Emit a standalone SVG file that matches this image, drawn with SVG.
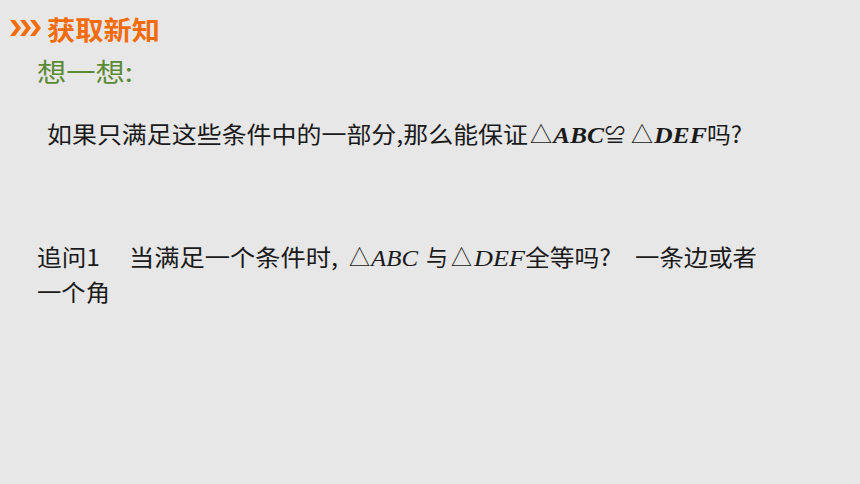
<svg xmlns="http://www.w3.org/2000/svg" width="860" height="484" viewBox="0 0 860 484">
<style>
.cjk{font-family:"Noto Sans CJK SC","Noto Sans",sans-serif;font-size:23px;fill:#1a1a1a}
.tri{font-family:"Noto Sans CJK SC","DejaVu Sans",sans-serif;font-size:23px;fill:#1a1a1a}
.mi{font-family:"Liberation Serif",serif;font-size:23px;font-style:italic;fill:#1a1a1a}
.mib{font-family:"Liberation Serif",serif;font-size:23px;font-style:italic;font-weight:bold;fill:#1a1a1a}
.chev{fill:#f36c0c}
</style>
<rect width="860" height="484" fill="#e7e7e7"/>
<g id="header">
<polygon class="chev" points="10,20 15,20 21,28 15,36 10,36 16,28"/>
<polygon class="chev" points="20,20 25,20 31,28 25,36 20,36 26,28"/>
<polygon class="chev" points="30,20 35,20 41,28 35,36 30,36 36,28"/>
<text x="47" y="40" font-family="Noto Sans CJK SC,sans-serif" font-size="26" font-weight="bold" fill="#f36c0c" textLength="113" lengthAdjust="spacingAndGlyphs">获取新知</text>
</g>
<g id="subtitle">
<text x="37" y="82" font-family="Noto Sans CJK SC,sans-serif" font-size="26" fill="#5b8a35" textLength="96" lengthAdjust="spacingAndGlyphs">想一想:</text>
</g>
<g id="question">
<text class="cjk" x="47" y="143" textLength="481" lengthAdjust="spacingAndGlyphs">如果只满足这些条件中的一部分,那么能保证</text>
<text class="tri" x="530" y="143" textLength="22" lengthAdjust="spacingAndGlyphs">△</text>
<text class="mib" x="553" y="143" textLength="51" lengthAdjust="spacingAndGlyphs">ABC</text>
<text class="cjk" x="605" y="143" textLength="20" lengthAdjust="spacingAndGlyphs">≌</text>
<text class="tri" x="631" y="143" textLength="22" lengthAdjust="spacingAndGlyphs">△</text>
<text class="mib" x="654" y="143" textLength="53" lengthAdjust="spacingAndGlyphs">DEF</text>
<text class="cjk" x="707" y="143" textLength="35" lengthAdjust="spacingAndGlyphs">吗?</text>
</g>
<g id="followup">
<text class="cjk" x="37" y="266" textLength="63" lengthAdjust="spacingAndGlyphs">追问1</text>
<text class="cjk" x="129" y="266" textLength="209" lengthAdjust="spacingAndGlyphs">当满足一个条件时,</text>
<text class="tri" x="349" y="266" textLength="21" lengthAdjust="spacingAndGlyphs">△</text>
<text class="mi" x="371" y="266" textLength="47" lengthAdjust="spacingAndGlyphs">ABC</text>
<text class="cjk" x="426" y="266" textLength="22" lengthAdjust="spacingAndGlyphs">与</text>
<text class="tri" x="451" y="266" textLength="21" lengthAdjust="spacingAndGlyphs">△</text>
<text class="mi" x="474" y="266" textLength="51" lengthAdjust="spacingAndGlyphs">DEF</text>
<text class="cjk" x="525" y="266" textLength="86" lengthAdjust="spacingAndGlyphs">全等吗?</text>
<text class="cjk" x="635" y="266" textLength="122" lengthAdjust="spacingAndGlyphs">一条边或者</text>
<text class="cjk" x="37" y="301" textLength="73" lengthAdjust="spacingAndGlyphs">一个角</text>
</g>
</svg>
